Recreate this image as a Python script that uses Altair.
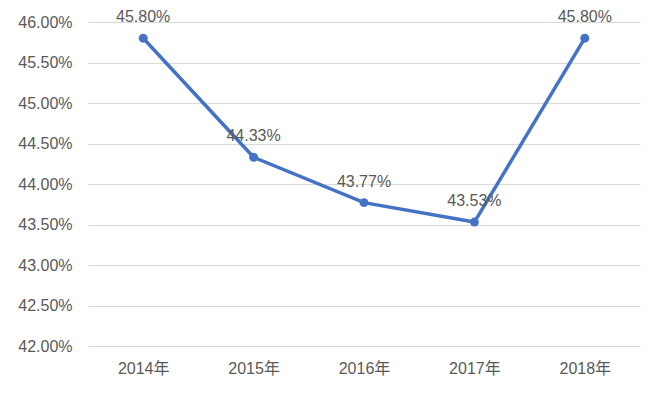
import altair as alt
import pandas as pd

years = ["2014年", "2015年", "2016年", "2017年", "2018年"]
values = [0.4580, 0.4433, 0.4377, 0.4353, 0.4580]
y_ticks = [0.42, 0.425, 0.43, 0.435, 0.44, 0.445, 0.45, 0.455, 0.46]

df = pd.DataFrame({"year": years, "value": values})

FONT = "Liberation Sans, Noto Sans CJK SC"
TXT = "#595959"
BLUE = "#4472C4"

x = alt.X("year:N", sort=years, title=None,
          scale=alt.Scale(paddingInner=0, paddingOuter=0.5),
          axis=alt.Axis(labelAngle=0, domain=False, ticks=False, grid=False,
                        labelPadding=14, labelFontSize=16, labelColor=TXT, labelFont=FONT))
y = alt.Y("value:Q", title=None,
          scale=alt.Scale(domain=[0.42, 0.46], nice=False, zero=False),
          axis=alt.Axis(values=y_ticks, format=".2%", domain=False, ticks=False,
                        gridColor="#d9d9d9", gridWidth=1, labelPadding=16,
                        labelFontSize=16, labelColor=TXT, labelFont=FONT))

base = alt.Chart(df).encode(x=x, y=y)
line = base.mark_line(color=BLUE, strokeWidth=3.5)
pts = base.mark_point(color=BLUE, filled=True, size=80, opacity=1)
labels = base.mark_text(dy=-21, fontSize=16, color=TXT, font=FONT).encode(
    text=alt.Text("value:Q", format=".2%"))

chart = (line + pts + labels).properties(
    width=552, height=324,
    autosize=alt.AutoSizeParams(type="none"),
    padding={"left": 80, "top": 14, "right": 16, "bottom": 42},
).configure_view(stroke=None)

chart.save("out.html", embed_options={"renderer": "svg", "actions": False})
